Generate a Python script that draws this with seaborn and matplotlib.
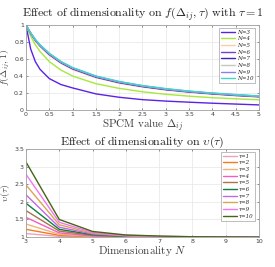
import numpy as np
import pandas as pd
import matplotlib
matplotlib.use("Agg")
import matplotlib.pyplot as plt
import seaborn as sns

# ---- data: top panel f(Delta_ij, 1) ----
delta = [0, 0.1, 0.2, 0.3, 0.5, 0.75, 1, 1.5, 2, 2.5, 3, 3.5, 4, 4.5, 5]
f_N3 = [1.0, 0.72, 0.57, 0.48, 0.37, 0.30, 0.26, 0.19, 0.15, 0.122, 0.105, 0.092, 0.08, 0.07, 0.06]
f_N4 = [1.0, 0.87, 0.77, 0.69, 0.57, 0.47, 0.40, 0.31, 0.255, 0.215, 0.185, 0.163, 0.145, 0.132, 0.12]
f_N5 = [1.0, 0.9, 0.815, 0.75, 0.645, 0.55, 0.475, 0.38, 0.315, 0.27, 0.234, 0.207, 0.185, 0.167, 0.152]
f_N6 = [1.0, 0.903, 0.82, 0.755, 0.652, 0.556, 0.484, 0.386, 0.321, 0.275, 0.239, 0.212, 0.19, 0.171, 0.156]
f_N7 = [1.0, 0.905, 0.823, 0.758, 0.657, 0.56, 0.49, 0.391, 0.326, 0.279, 0.243, 0.215, 0.193, 0.175, 0.159]
f_N8 = [1.0, 0.907, 0.826, 0.762, 0.661, 0.564, 0.494, 0.395, 0.33, 0.283, 0.246, 0.218, 0.196, 0.177, 0.161]
f_N9 = [1.0, 0.909, 0.829, 0.766, 0.665, 0.568, 0.497, 0.398, 0.333, 0.286, 0.249, 0.221, 0.198, 0.18, 0.163]
f_N10 = [1.0, 0.91, 0.832, 0.77, 0.668, 0.572, 0.5, 0.401, 0.336, 0.288, 0.252, 0.223, 0.2, 0.182, 0.165]
top_labels = ["N=3", "N=4", "N=5", "N=6", "N=7", "N=8", "N=9", "N=10"]
top_colors = ["#5a22e8", "#a6e83c", "#f5cfa6", "#7a3fc8", "#3c22c0", "#c3cbb8", "#8a80ee", "#40d6cc"]

# ---- data: bottom panel v(tau) ----
dims = [3, 4, 5, 6, 7, 8, 9, 10]
v_tau1 = [1.1, 1.02, 1.0, 1.0, 1.0, 1.0, 1.0, 1.0]
v_tau2 = [1.22, 1.05, 1.01, 1.0, 1.0, 1.0, 1.0, 1.0]
v_tau3 = [1.37, 1.08, 1.02, 1.0, 1.0, 1.0, 1.0, 1.0]
v_tau4 = [1.56, 1.12, 1.03, 1.01, 1.0, 1.0, 1.0, 1.0]
v_tau5 = [1.75, 1.17, 1.05, 1.01, 1.0, 1.0, 1.0, 1.0]
v_tau6 = [1.96, 1.22, 1.07, 1.02, 1.01, 1.0, 1.0, 1.0]
v_tau7 = [2.2, 1.28, 1.09, 1.03, 1.01, 1.0, 1.0, 1.0]
v_tau8 = [2.48, 1.35, 1.11, 1.04, 1.01, 1.005, 1.0, 1.0]
v_tau9 = [2.78, 1.42, 1.13, 1.05, 1.02, 1.01, 1.0, 1.0]
v_tau10 = [3.13, 1.5, 1.16, 1.06, 1.03, 1.01, 1.005, 1.0]
bot_labels = ["τ=1", "τ=2", "τ=3", "τ=4", "τ=5", "τ=6", "τ=7", "τ=8", "τ=9", "τ=10"]
bot_colors = ["#e8a2bc", "#f57a1e", "#f0b478", "#f45cc4", "#a8744a", "#127a44",
              "#c466e6", "#d4a852", "#f474f4", "#466416"]

top_series = [f_N3, f_N4, f_N5, f_N6, f_N7, f_N8, f_N9, f_N10]
bot_series = [v_tau1, v_tau2, v_tau3, v_tau4, v_tau5, v_tau6, v_tau7, v_tau8, v_tau9, v_tau10]

df_top = pd.concat([pd.DataFrame({"x": delta, "y": s, "lab": l})
                    for s, l in zip(top_series, top_labels)], ignore_index=True)
df_bot = pd.concat([pd.DataFrame({"x": dims, "y": s, "lab": l})
                    for s, l in zip(bot_series, bot_labels)], ignore_index=True)

sns.set_style("whitegrid")
plt.rcParams["mathtext.fontset"] = "cm"
plt.rcParams["font.family"] = ["DejaVu Sans"]

fig = plt.figure(figsize=(2.75, 2.67), dpi=100)
ax1 = fig.add_axes([0.0945, 0.588, 0.847, 0.318])
ax2 = fig.add_axes([0.0945, 0.112, 0.847, 0.330])

sns.lineplot(data=df_top, x="x", y="y", hue="lab", palette=top_colors, ax=ax1,
             linewidth=1.0, legend=True, sort=False)
sns.lineplot(data=df_bot, x="x", y="y", hue="lab", palette=bot_colors, ax=ax2,
             linewidth=1.0, legend=True, sort=False)

for ax in (ax1, ax2):
    ax.grid(True, color="#e6e6e6", linewidth=0.5)
    for sp in ax.spines.values():
        sp.set_color("#a0a0a0")
        sp.set_linewidth(0.6)
    ax.tick_params(labelsize=4.5, colors="#404040", length=1.5, width=0.4,
                   direction="in", pad=1.5, top=True, right=True, bottom=True, left=True)

ax1.set_xlim(0, 5)
ax1.set_ylim(0, 1)
ax1.set_xticks(np.arange(0, 5.01, 0.5))
ax1.set_xticklabels(["0", "0.5", "1", "1.5", "2", "2.5", "3", "3.5", "4", "4.5", "5"])
ax1.set_yticks(np.arange(0, 1.01, 0.2))
ax1.set_yticklabels(["0", "0.2", "0.4", "0.6", "0.8", "1"])
ax1.set_title(r"$\mathrm{Effect\ of\ dimensionality\ on\ }f(\Delta_{ij},\tau)\mathrm{\ with\ }\tau=1$",
              fontsize=8.6, pad=5.5, color="#202020")
ax1.set_xlabel(r"$\mathrm{SPCM\ value\ }\Delta_{ij}$", fontsize=8, labelpad=0, color="#404040")
ax1.set_ylabel(r"$f(\Delta_{ij},1)$", fontsize=7, color="#404040")
ax1.yaxis.set_label_coords(-0.058, 0.5)

legkw = dict(loc="upper right", handlelength=2.6, labelspacing=0.3,
             borderpad=0.35, frameon=True, fancybox=False, handletextpad=0.3,
             bbox_to_anchor=(0.985, 0.97), borderaxespad=0,
             prop={"family": "DejaVu Serif", "style": "italic", "size": 4.0})
leg1 = ax1.legend(**legkw)
leg1.get_frame().set_edgecolor("#a0a0a0")
leg1.get_frame().set_linewidth(0.6)

ax2.set_xlim(3, 10)
ax2.set_ylim(1, 3.5)
ax2.set_xticks(range(3, 11))
ax2.set_yticks(np.arange(1, 3.51, 0.5))
ax2.set_yticklabels(["1", "1.5", "2", "2.5", "3", "3.5"])
ax2.set_title(r"$\mathrm{Effect\ of\ dimensionality\ on\ }\upsilon(\tau)$",
              fontsize=8.6, pad=3, color="#202020")
ax2.set_xlabel(r"$\mathrm{Dimensionality\ }N$", fontsize=8, labelpad=0, color="#404040")
ax2.set_ylabel(r"$\upsilon(\tau)$", fontsize=7, color="#404040")
ax2.yaxis.set_label_coords(-0.058, 0.5)
leg2 = ax2.legend(**legkw)
leg2.get_frame().set_edgecolor("#a0a0a0")
leg2.get_frame().set_linewidth(0.6)

fig.savefig("out.png", dpi=100)
